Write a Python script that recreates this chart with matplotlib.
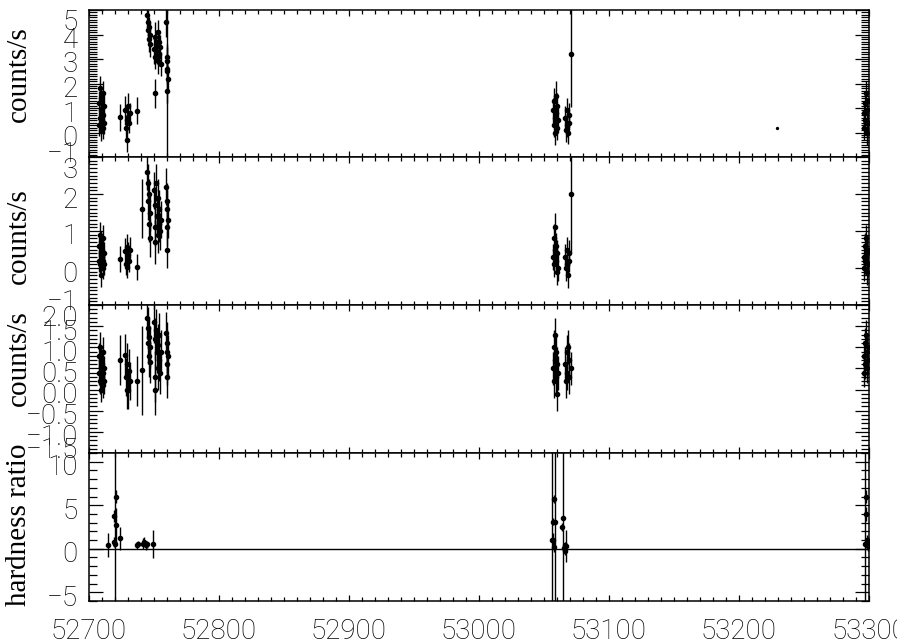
import numpy as np
import matplotlib
matplotlib.use("Agg")
import matplotlib.pyplot as plt
from matplotlib.ticker import MultipleLocator, FixedLocator
import matplotlib.transforms as mtransforms

# ---------------- data ----------------
# Panel 1: counts/s (total)
t1 = [52707.8, 52708.0, 52708.3, 52708.6, 52708.9, 52709.2, 52709.5, 52709.8, 52710.1, 52710.4, 52710.7, 52711.0, 52711.3, 52711.6,
      52723.8, 52727.8, 52728.5, 52729.0, 52729.6, 52730.2, 52730.8, 52731.4, 52737.2,
      52744.5, 52745.0, 52745.4, 52745.8, 52746.2, 52746.7, 52747.1, 52750.2, 52750.5, 52750.7, 52751.1, 52751.5,
      52752.3, 52752.7, 52753.2, 52753.6, 52754.0, 52754.5, 52755.0,
      52759.5, 52759.7, 52759.9, 52760.0, 52760.2, 52760.4, 52760.1,
      53057.0, 53057.4, 53057.8, 53058.2, 53058.6, 53059.0, 53059.4, 53059.8, 53060.2, 53060.6,
      53066.5, 53067.0, 53067.5, 53068.0, 53068.5, 53069.0, 53069.5, 53070.8,
      53295.8, 53296.3, 53296.8, 53297.3, 53297.8, 53298.3, 53298.8, 53299.3, 53299.7]
y1 = [0.3, 1.2, 0.6, 1.8, 0.9, 0.1, 1.4, 0.5, 1.0, 0.2, 1.6, 0.7, 1.1, 0.4,
      0.63, 0.9, 0.2, -0.3, 0.5, 1.1, 0.4, 0.8, 0.88,
      4.8, 4.2, 4.5, 3.8, 4.3, 3.6, 4.0, 3.4, 1.6, 3.9, 3.1, 3.6,
      3.3, 4.1, 2.9, 3.7, 3.2, 3.5, 2.8,
      4.5, 3.1, 2.5, 2.9, 1.7, 2.2, 2.6,
      0.9, 0.3, 1.3, 0.6, 0.0, 1.5, 0.8, 0.2, 1.1, 0.5,
      0.6, 0.1, 0.9, 0.3, 0.0, 0.7, 0.4, 3.2,
      0.8, 0.2, 1.2, 0.5, 1.6, 0.0, 0.9, 0.4, 1.3]
e1 = [0.45, 0.5, 0.45, 0.5, 0.45, 0.45, 0.5, 0.45, 0.5, 0.45, 0.5, 0.45, 0.5, 0.45,
      0.55, 0.6, 0.5, 0.5, 0.5, 0.5, 0.4, 0.4, 0.55,
      0.5, 0.5, 0.5, 0.5, 0.4, 0.5, 0.5, 0.6, 0.6, 0.6, 0.5, 0.6,
      0.5, 0.5, 0.5, 0.5, 0.5, 0.5, 0.5,
      0.6, 0.5, 0.5, 0.6, 0.5, 0.5, 6.0,
      0.5, 0.5, 0.5, 0.5, 0.5, 0.6, 0.5, 0.5, 0.5, 0.5,
      0.5, 0.5, 0.5, 0.5, 0.45, 0.5, 0.45, 2.15,
      0.5, 0.5, 0.5, 0.5, 0.5, 0.5, 0.5, 0.5, 0.5]
# isolated faint point in panel 1
t1_single = [53229.0]
y1_single = [0.2]

# Panel 2: counts/s (soft)
t2 = [52707.8, 52708.0, 52708.3, 52708.6, 52708.9, 52709.2, 52709.5, 52709.8, 52710.1, 52710.4, 52710.7, 52711.0, 52711.3, 52711.6,
      52723.8, 52727.8, 52728.5, 52729.0, 52729.6, 52730.2, 52730.8, 52731.4, 52737.2, 52740.5,
      52744.5, 52745.0, 52745.4, 52745.8, 52746.2, 52746.7, 52747.1, 52750.2, 52750.5, 52750.7, 52751.1, 52751.5,
      52752.3, 52752.7, 52753.2, 52753.6, 52754.0, 52754.5, 52755.0,
      52759.5, 52759.7, 52759.9, 52760.0, 52760.2, 52760.4,
      53057.0, 53057.4, 53057.8, 53058.2, 53058.6, 53059.0, 53059.4, 53059.8, 53060.2, 53060.6,
      53066.5, 53067.0, 53067.5, 53068.0, 53068.5, 53069.0, 53069.5, 53070.8,
      53295.8, 53296.3, 53296.8, 53297.3, 53297.8, 53298.3, 53298.8, 53299.3, 53299.7]
y2 = [0.2, 0.6, 0.1, 0.9, 0.4, -0.2, 0.7, 0.3, 0.5, 0.0, 0.8, 0.2, 0.4, 0.1,
      0.24, 0.45, 0.1, 0.57, 0.03, 0.35, 0.2, 0.5, 0.03, 1.6,
      2.6, 1.8, 2.3, 1.2, 2.0, 0.8, 1.5, 2.1, 0.7, 1.7, 1.1, 2.3,
      1.4, 0.9, 1.9, 1.2, 1.6, 1.0, 1.3,
      2.2, 1.6, 1.1, 1.8, 0.5, 1.3,
      0.3, 0.8, 0.1, 0.5, 1.1, 0.2, 0.6, -0.1, 0.4, 0.0,
      0.3, 0.0, 0.5, 0.1, -0.2, 0.4, 0.2, 2.0,
      0.3, 0.0, 0.6, 0.2, 0.8, -0.1, 0.4, 0.1, 0.5]
e2 = [0.3, 0.3, 0.3, 0.35, 0.3, 0.3, 0.3, 0.3, 0.3, 0.3, 0.35, 0.3, 0.3, 0.3,
      0.35, 0.35, 0.3, 0.35, 0.3, 0.35, 0.3, 0.35, 0.35, 0.8,
      0.5, 0.5, 0.5, 0.5, 0.4, 0.5, 0.5, 0.5, 0.6, 0.5, 0.5, 0.5,
      0.5, 0.5, 0.5, 0.5, 0.5, 0.5, 0.5,
      0.5, 0.5, 0.5, 0.5, 0.5, 0.5,
      0.35, 0.4, 0.35, 0.35, 0.4, 0.35, 0.35, 0.35, 0.35, 0.35,
      0.35, 0.35, 0.35, 0.3, 0.35, 0.35, 0.3, 1.6,
      0.35, 0.35, 0.35, 0.35, 0.35, 0.35, 0.35, 0.35, 0.35]

# Panel 3: counts/s (hard)
t3 = t2
y3 = [0.4, 0.8, 0.2, 1.0, 0.5, 0.0, 0.7, 0.3, 0.6, 0.1, 0.9, 0.4, 0.5, 0.2,
      0.7, 0.82, 0.3, 0.0, 0.6, 0.0, 0.45, 0.2, 0.2, 0.46,
      1.7, 1.1, 1.45, 0.8, 1.25, 0.66, 1.0, 1.6, 0.3, 1.2, 0.0, 1.4,
      0.9, 0.5, 1.05, 0.7, 1.3, 0.4, 0.9,
      1.33, 0.9, 0.3, 1.1, 0.6, 0.8,
      0.5, 1.0, 0.2, 0.7, 1.3, 0.3, 0.9, -0.1, 0.6, 0.4,
      0.6, 0.2, 0.9, 0.4, 1.0, 0.3, 0.7, 0.5,
      0.8, 0.4, 1.1, 0.6, 1.3, 0.5, 0.9, 0.7, 1.0]
e3 = [0.3, 0.3, 0.3, 0.35, 0.3, 0.3, 0.3, 0.3, 0.3, 0.3, 0.35, 0.3, 0.3, 0.3,
      0.6, 0.5, 0.45, 0.45, 0.5, 0.45, 0.5, 0.45, 0.6, 1.05,
      0.5, 0.5, 0.5, 0.5, 0.45, 0.5, 0.5, 0.5, 0.6, 0.5, 0.6, 0.5,
      0.5, 0.5, 0.5, 0.5, 0.5, 0.5, 0.5,
      0.5, 0.5, 0.5, 0.5, 0.5, 0.5,
      0.4, 0.4, 0.4, 0.4, 0.4, 0.4, 0.4, 0.4, 0.4, 0.4,
      0.4, 0.4, 0.4, 0.4, 0.4, 0.4, 0.4, 0.4,
      0.35, 0.35, 0.35, 0.35, 0.35, 0.35, 0.35, 0.35, 0.35]

# Panel 4: hardness ratio
t4 = [52714.8, 52719.8, 52719.2, 52719.6, 52720.5, 52720.8, 52723.5,
      52737.0, 52737.5, 52741.5, 52742.5, 52743.5, 52744.5, 52749.5,
      53056.5, 53058.8, 53057.8, 53057.0, 53057.5, 53057.2,
      53064.4, 53064.2, 53065.0, 53065.8, 53066.5, 53067.3,
      53297.0, 53297.5, 53298.0, 53298.5, 53299.0, 53299.5]
y4 = [0.4, 0.6, 3.8, 0.8, 6.0, 2.7, 1.2,
      0.4, 0.6, 0.6, 0.8, 0.4, 0.5, 0.5,
      1.0, 3.1, 5.7, 3.1, 0.2, 1.0,
      3.5, 2.5, 0.1, 0.4, -0.2, 0.3,
      0.5, 6.0, 4.0, 1.0, 0.3, 0.6]
e4 = [1.4, 30.0, 0.7, 0.6, 0.8, 2.0, 1.3,
      0.4, 0.3, 0.6, 0.5, 0.5, 0.4, 1.6,
      30.0, 30.0, 0.5, 0.4, 0.6, 0.8,
      30.0, 0.5, 0.3, 0.4, 0.5, 1.8,
      30.0, 0.8, 0.8, 0.6, 0.5, 0.7]

xticks = [52700, 52800, 52900, 53000, 53100, 53200, 53300]
xlabels = ["52700", "52800", "52900", "53000", "53100", "53200", "53300"]

panel_ylims = [(-1, 5), (-1, 3), (-1.5, 2.0), (-6, 11)]
panel_yticks = [[-1, 0, 1, 2, 3, 4, 5], [-1, 0, 1, 2, 3],
                [-1.5, -1.0, -0.5, 0.0, 0.5, 1.0, 1.5, 2.0], [-5, 0, 5, 10]]
panel_yticklabels = [["\u22121", "0", "1", "2", "3", "4", "5"],
                     ["\u22121", "0", "1", "2", "3"],
                     ["\u22121.5", "\u22121.0", "\u22120.5", "0.0", "0.5", "1.0", "1.5", "2.0"],
                     ["\u22125", "0", "5", "10"]]
panel_minor = [0.1, 0.1, 0.1, 1.0]
ytitles = ["counts/s", "counts/s", "counts/s", "hardness ratio"]

# ---------------- figure ----------------
W, H = 897, 644
fig = plt.figure(figsize=(W / 100, H / 100), dpi=100)
fig.patch.set_facecolor("white")

left_px, right_px = 89, 869
panel_px = [(10, 157), (157, 305), (305, 453), (453, 601)]
title_y_px = [74, 236, 358, 525]

tick_font = dict(family=["Roboto", "DejaVu Sans"], weight="light", size=20, color="black")
title_font = dict(family=["Liberation Serif", "DejaVu Serif"], size=21, color="black")

series = [(t1, y1, e1), (t2, y2, e2), (t3, y3, e3), (t4, y4, e4)]
axes = []
for i, (top, bot) in enumerate(panel_px):
    ax = fig.add_axes([left_px / W, 1 - bot / H, (right_px - left_px) / W, (bot - top) / H])
    axes.append(ax)
    t, y, e = series[i]
    ax.errorbar(t, y, yerr=e, fmt="o", ms=3.0, mfc="black", mec="black",
                ecolor="black", elinewidth=1.0, capsize=0, lw=0, zorder=3)
    if i == 0:
        ax.plot(t1_single, y1_single, "o", ms=1.4, color="black")
    if i == 3:
        ax.axhline(0, color="black", lw=1.0, zorder=2)
    ax.set_xlim(52700, 53300)
    ax.set_ylim(*panel_ylims[i])
    ax.xaxis.set_major_locator(FixedLocator(xticks))
    ax.xaxis.set_minor_locator(MultipleLocator(10))
    ax.yaxis.set_major_locator(FixedLocator(panel_yticks[i]))
    ax.yaxis.set_minor_locator(MultipleLocator(panel_minor[i]))
    ax.tick_params(axis="both", which="both", direction="in", top=True, right=True,
                   color="black", width=0.9)
    ax.tick_params(axis="x", which="major", length=4)
    ax.tick_params(axis="x", which="minor", length=3)
    ax.tick_params(axis="y", which="major", length=10)
    ax.tick_params(axis="y", which="minor", length=6)
    ax.tick_params(axis="y", pad=8)
    ax.tick_params(axis="x", pad=12)
    for sp in ax.spines.values():
        sp.set_linewidth(1.1)
        sp.set_color("black")
    ax.set_yticklabels(panel_yticklabels[i], fontdict=tick_font)
    if i == 3:
        ax.set_xticklabels(xlabels, fontdict=tick_font)
    else:
        ax.set_xticklabels([])
    # IDL-like vertical placement of tick labels
    labs = ax.get_yticklabels()
    lo, hi = panel_ylims[i]
    for val, lab in zip(panel_yticks[i], labs):
        dy = -3
        if abs(val - hi) < 1e-9:
            dy = -10
        elif abs(val - lo) < 1e-9:
            dy = 5
        off = mtransforms.ScaledTranslation(0, dy / 100, fig.dpi_scale_trans)
        lab.set_transform(lab.get_transform() + off)
    fig.text(19 / W, 1 - title_y_px[i] / H, ytitles[i], rotation=90,
             ha="center", va="center", **title_font)

fig.savefig("out.png", dpi=100, facecolor="white")
